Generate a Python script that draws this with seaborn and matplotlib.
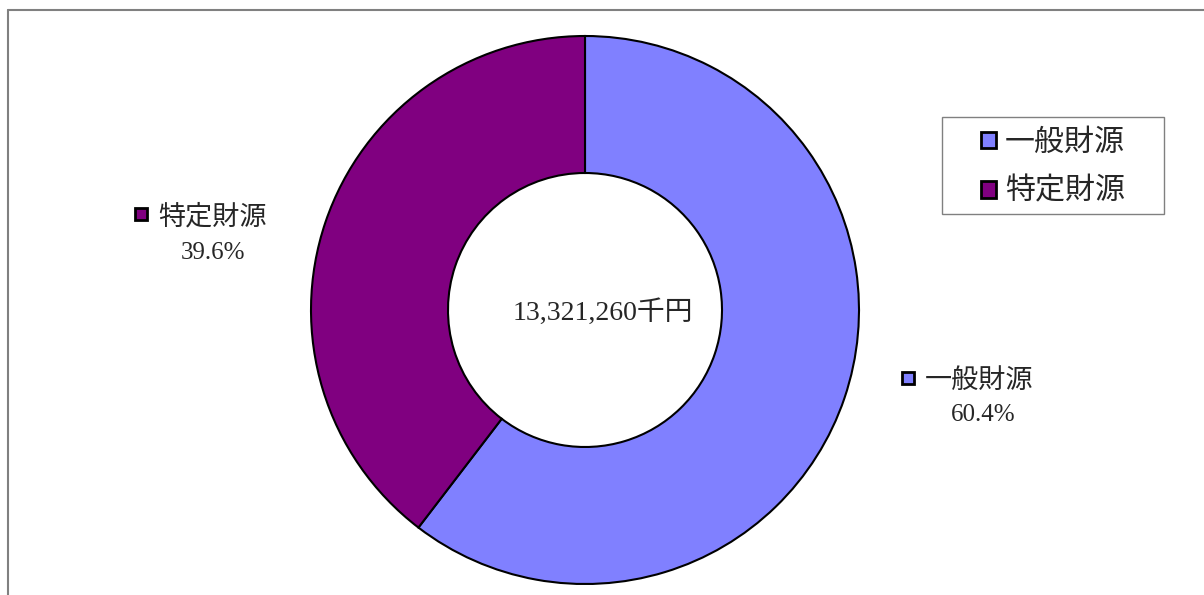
import numpy as np
import matplotlib
matplotlib.use("Agg")
import matplotlib.pyplot as plt
import seaborn as sns
from matplotlib.lines import Line2D
from matplotlib.patches import Patch, Rectangle

# ======= Data =======
categories = ["一般財源", "特定財源"]
shares = [60.4, 39.6]
colors = ["#8080ff", "#800080"]
total_label = "13,321,260千円"

sns.set_theme(style="white")
plt.rcParams['font.family'] = ['Liberation Serif', 'Noto Sans CJK JP', 'DejaVu Sans']

W, H = 1204, 595
fig = plt.figure(figsize=(W / 100, H / 100), dpi=100)

# donut centre / radius in pixels
cx, cy, r = 585, 310, 274
ax = fig.add_axes([(cx - r) / W, (H - cy - r) / H, 2 * r / W, 2 * r / H])

wedges, _ = ax.pie(shares, colors=colors, startangle=90, counterclock=False,
                   radius=1.0, wedgeprops=dict(width=0.5, edgecolor="black", linewidth=1.5))
ax.set_xlim(-1, 1)
ax.set_ylim(-1, 1)
ax.set_aspect("equal")
ax.axis("off")

def px(x, y):
    return (x - cx) / r, (cy - y) / r

ax.text(*px(603, 313), total_label, ha="center", va="center", fontsize=20)

# outside labels (marker, name, percent)
label_pos = {
    "一般財源": dict(mk=(908, 378), name=(925, 381), pct=(983, 415)),
    "特定財源": dict(mk=(141, 214), name=(158, 218), pct=(213, 253)),
}
for cat, val, col in zip(categories, shares, colors):
    p = label_pos[cat]
    mx, my = px(*p["mk"])
    ax.plot(mx, my, marker="s", markersize=9, markerfacecolor=col,
            markeredgecolor="black", markeredgewidth=2, clip_on=False)
    ax.text(*px(*p["name"]), cat, ha="left", va="center", fontsize=19.5, clip_on=False)
    ax.text(*px(*p["pct"]), f"{val:.1f}%", ha="center", va="center", fontsize=18, clip_on=False)

# legend box
bx0, by0, bx1, by1 = 942, 117, 1164, 214
handles = [Patch(facecolor=c, edgecolor="black", linewidth=2) for c in colors]
fig.legend(handles, categories, loc="center",
           bbox_to_anchor=((bx0 + bx1) / 2 / W, 1 - (by0 + by1 + 4) / 2 / H), fontsize=21.6,
           frameon=False, handlelength=0.48, handleheight=0.48, handletextpad=0.3,
           borderpad=0, labelspacing=0.7, borderaxespad=0)
fig.add_artist(Rectangle((bx0 / W, 1 - by1 / H), (bx1 - bx0) / W, (by1 - by0) / H,
                         transform=fig.transFigure, fill=False, edgecolor="#808080", linewidth=1.0))

# outer chart-area border (top and left visible)
fig.add_artist(Line2D([8 / W, 1], [1 - 10 / H, 1 - 10 / H], color="#808080", linewidth=1.5))
fig.add_artist(Line2D([8 / W, 8 / W], [0, 1 - 10 / H], color="#808080", linewidth=1.5))

fig.savefig("out.png", dpi=100)
